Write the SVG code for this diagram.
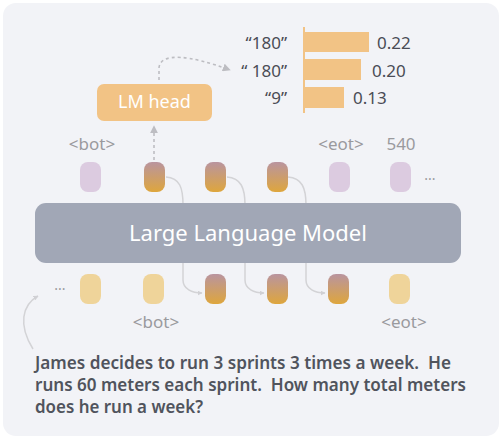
<svg xmlns="http://www.w3.org/2000/svg" width="502" height="439" viewBox="0 0 502 439">
<style>
.lbl{font-family:"Noto Sans","DejaVu Sans",sans-serif;font-size:17px;fill:#9a9a9e}
.num{font-family:"Noto Sans","DejaVu Sans",sans-serif;font-size:17px;fill:#4a4c55}
.q{font-family:"Noto Sans","DejaVu Sans",sans-serif;font-size:17px;fill:#50545d;font-weight:600;white-space:pre}
.conn{fill:none;stroke:#d3d3d6;stroke-width:1.5}
.dash{fill:none;stroke:#bdbdc2;stroke-width:1.6;stroke-dasharray:3 3}
.lav{fill:#dccbe0}
.yel{fill:#efd49a}
.grad{fill:url(#tg)}
.bar{fill:#f2c385}
</style>
<defs>
<linearGradient id="tg" x1="0" y1="0" x2="0" y2="1">
<stop offset="0" stop-color="#b9949f"/>
<stop offset="1" stop-color="#dea63d"/>
</linearGradient>
<marker id="ah" viewBox="0 0 10 10" refX="9" refY="5" markerWidth="5" markerHeight="5" orient="auto" markerUnits="userSpaceOnUse">
<path d="M0,0 L10,5 L0,10 z" fill="#d0d0d4"/>
</marker>
<marker id="ahd" viewBox="0 0 10 10" refX="9" refY="5" markerWidth="8" markerHeight="8" orient="auto" markerUnits="userSpaceOnUse">
<path d="M0,0 L10,5 L0,10 z" fill="#bdbdc2"/>
</marker>
</defs>
<rect x="3" y="3" width="496" height="433" rx="13" fill="#f2f3f7"/>
<g id="connectors">
<path class="conn" d="M166,177 C180,178 183,188 183,205 L183,280 C183,289 192,293 202,293" marker-end="url(#ah)"/>
<path class="conn" d="M227,177 C241,178 245,188 245,205 L245,280 C245,289 254,293 264,293" marker-end="url(#ah)"/>
<path class="conn" d="M288,177 C302,178 306,188 306,205 L306,280 C306,289 315,293 325,293" marker-end="url(#ah)"/>
<path class="conn" d="M33,349 C18,325 22,305 38,296" marker-end="url(#ah)"/>
<path class="dash" d="M154,160 L154,126" marker-end="url(#ahd)"/>
<path class="dash" d="M159,80 L159,68 C160,52 190,55 230,70" marker-end="url(#ahd)"/>
</g>
<g id="llm">
<rect x="35" y="203" width="426" height="60" rx="11" fill="#a1a7b6"/>
<text x="248" y="241" text-anchor="middle" style="font-family:'Noto Sans','DejaVu Sans',sans-serif;font-size:22px;fill:#ffffff">Large Language Model</text>
</g>
<g id="lm-head">
<rect x="97" y="84" width="115" height="37" rx="7" fill="#f2c385"/>
<text x="154.5" y="108" text-anchor="middle" style="font-family:'Noto Sans','DejaVu Sans',sans-serif;font-size:18px;fill:#ffffff">LM head</text>
</g>
<g id="top-tokens">
<rect class="lav" x="80" y="162" width="21" height="30" rx="8"/>
<rect class="grad" x="144" y="162" width="21" height="30" rx="8"/>
<rect class="grad" x="205" y="162" width="21" height="30" rx="8"/>
<rect class="grad" x="267" y="162" width="21" height="30" rx="8"/>
<rect class="lav" x="329" y="162" width="21" height="30" rx="8"/>
<rect class="lav" x="390" y="162" width="21" height="30" rx="8"/>
<text class="lbl" x="430" y="180" text-anchor="middle" style="font-size:14px">...</text>
<text class="lbl" x="92" y="150" text-anchor="middle">&lt;bot&gt;</text>
<text class="lbl" x="341" y="150" text-anchor="middle">&lt;eot&gt;</text>
<text class="lbl" x="401" y="150" text-anchor="middle">540</text>
</g>
<g id="bottom-tokens">
<text class="lbl" x="60" y="290" text-anchor="middle" style="font-size:14px">...</text>
<rect class="yel" x="80" y="274" width="21" height="30" rx="8"/>
<rect class="yel" x="143" y="274" width="21" height="30" rx="8"/>
<rect class="grad" x="205" y="274" width="21" height="30" rx="8"/>
<rect class="grad" x="267" y="274" width="21" height="30" rx="8"/>
<rect class="grad" x="328" y="274" width="21" height="30" rx="8"/>
<rect class="yel" x="389" y="274" width="21" height="30" rx="8"/>
<text class="lbl" x="156" y="328" text-anchor="middle">&lt;bot&gt;</text>
<text class="lbl" x="404" y="328" text-anchor="middle">&lt;eot&gt;</text>
</g>
<g id="bar-chart">
<line x1="304" y1="27" x2="304" y2="113" stroke="#f2c385" stroke-width="2"/>
<rect class="bar" x="304" y="32" width="65" height="20"/>
<rect class="bar" x="304" y="59" width="57" height="21"/>
<rect class="bar" x="304" y="87" width="40" height="21"/>
<text class="num" x="287" y="49" text-anchor="end">“180”</text>
<text class="num" x="287" y="77" text-anchor="end">“ 180”</text>
<text class="num" x="287" y="104" text-anchor="end">“9”</text>
<text class="num" x="377" y="49">0.22</text>
<text class="num" x="372" y="77">0.20</text>
<text class="num" x="353" y="104">0.13</text>
</g>
<g id="question">
<text class="q" x="35" y="369" textLength="416" lengthAdjust="spacingAndGlyphs">James decides to run 3 sprints 3 times a week.  He</text>
<text class="q" x="35" y="391" textLength="431" lengthAdjust="spacingAndGlyphs">runs 60 meters each sprint.  How many total meters</text>
<text class="q" x="35" y="413" textLength="168" lengthAdjust="spacingAndGlyphs">does he run a week?</text>
</g>
</svg>
